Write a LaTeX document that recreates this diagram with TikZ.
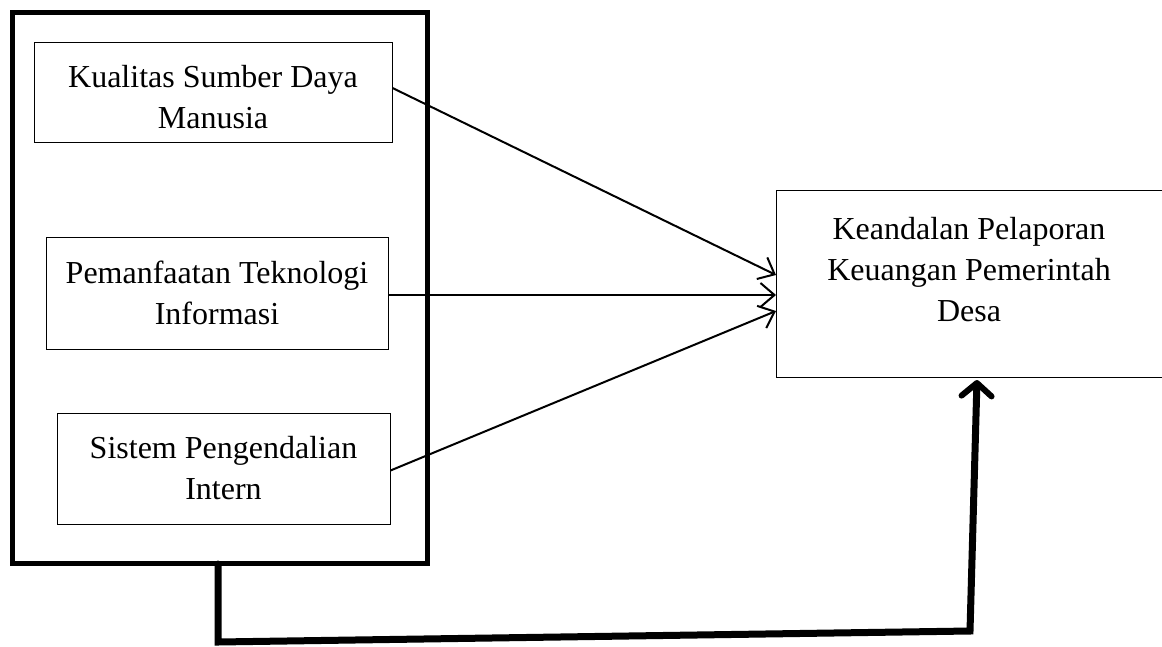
\documentclass[tikz,border=0pt]{standalone}
\usepackage{fontspec}
\setmainfont{Liberation Serif}
\usetikzlibrary{arrows.meta}
\begin{document}
\begin{tikzpicture}[x=1pt,y=-1pt,
  txt/.style={align=center,inner sep=0pt,font=\fontsize{32}{41}\selectfont},
  box/.style={draw,line width=1pt,inner sep=0pt,align=center,font=\fontsize{32}{41}\selectfont},
  thin/.style={line width=2pt,-{Straight Barb[length=14pt,width=24pt,line width=2pt]}},
  thick/.style={line width=7pt,line cap=round,line join=miter,-{Straight Barb[length=13pt,width=30pt,line width=6pt,round]}}]
\useasboundingbox (0,0) rectangle (1162,646);
\node[draw,line width=5pt,minimum width=415pt,minimum height=551pt] (outer) at (219.5,287.5) {};
\node[draw,line width=1pt,minimum width=358pt,minimum height=100pt] (b1) at (213,92) {};
\node[txt] (b1txt) at (213,97) {Kualitas Sumber Daya\\Manusia};
\node[box,minimum width=342pt,minimum height=112pt] (b2) at (217,293) {Pemanfaatan Teknologi\\Informasi};
\node[box,minimum width=333pt,minimum height=111pt] (b3) at (223.5,468.5) {Sistem Pengendalian\\Intern};
\node[draw,line width=1pt,minimum width=386pt,minimum height=187pt] (out) at (969,283.5) {};
\node[txt] (outtxt) at (969,270) {Keandalan Pelaporan\\Keuangan Pemerintah\\Desa};
\coordinate (t1) at (776,275);
\coordinate (t2) at (776,295);
\coordinate (t3) at (776,311);
\draw[thin] (b1.east) ++(0,-4) -- (t1);
\draw[thin] (b2.east) ++(0,2) -- (t2);
\draw[thin] (b3.east) ++(0,2) -- (t3);
\coordinate (c1) at (218,642);
\coordinate (c2) at (970,631);
\coordinate (tip) at (977,380);
\draw[thick] (218,564) -- (c1) -- (c2) -- (tip);
\end{tikzpicture}
\end{document}
